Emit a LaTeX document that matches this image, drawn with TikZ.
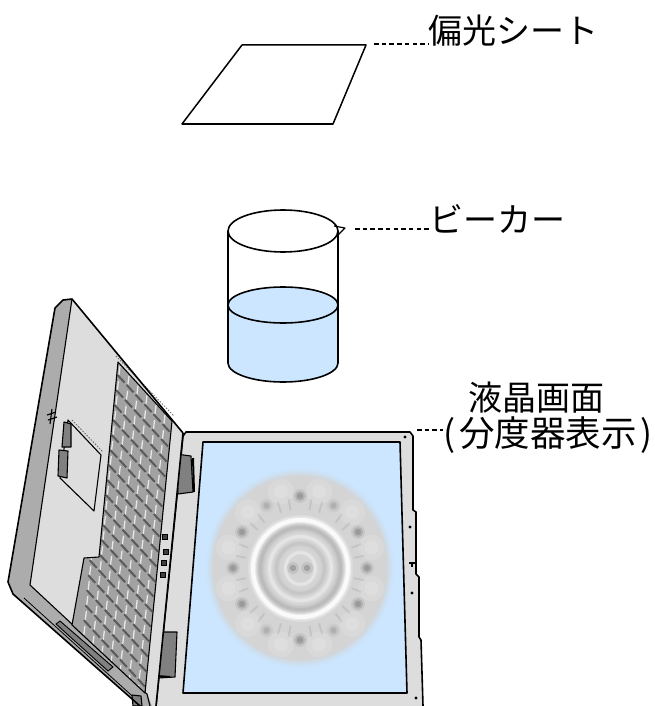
\documentclass[tikz,border=0pt]{standalone}
\usepackage{fontspec}
\newfontfamily\jpfont{Noto Sans CJK JP}
\definecolor{water}{RGB}{204,230,255}
\definecolor{lcd}{RGB}{204,230,255}
\definecolor{shell}{RGB}{221,221,221}
\definecolor{rim}{RGB}{172,172,172}
\definecolor{keys}{RGB}{162,162,162}
\definecolor{keyshade}{RGB}{90,90,90}
\definecolor{keylight}{RGB}{232,232,232}
\definecolor{hingegray}{RGB}{128,128,128}
\definecolor{dial}{RGB}{212,212,212}
\definecolor{dialdark}{RGB}{180,180,180}
\tikzset{
  outline/.style={draw=black, line width=1.6pt, line join=round},
  thin outline/.style={draw=black, line width=1.1pt, line join=round},
  leader/.style={draw=black, line width=1.3pt, dash pattern=on 4.5pt off 3.2pt},
  jlabel/.style={font=\jpfont\fontsize{34}{36}\selectfont, inner sep=0pt, anchor=base west},
}
\begin{document}
\begin{tikzpicture}[x=1pt,y=-1pt]
\useasboundingbox (0,0) rectangle (655,706);

% ---------------- polarizing sheet ----------------
\draw[outline, line width=1.5pt] (242,45) -- (366,45) -- (333,124) -- (182,124) -- cycle;
\coordinate (sheetTip) at (374,44);
\node[jlabel] (lblSheet) at (428,43.6) {偏光シート};
\draw[leader] (sheetTip) -- (lblSheet.west |- sheetTip);

% ---------------- beaker ----------------
\fill[water] (228,305) -- (228,363)
  arc[start angle=180, end angle=360, x radius=55pt, y radius=19pt]
  -- (338,305)
  arc[start angle=0, end angle=180, x radius=55pt, y radius=18pt] -- cycle;
\draw[outline] (228,231) -- (228,363)
  arc[start angle=180, end angle=360, x radius=55pt, y radius=19pt]
  -- (338,231);
\draw[outline, fill=water] (283,305) ellipse[x radius=55pt, y radius=18pt];
\draw[outline] (283,231) ellipse[x radius=55pt, y radius=21pt];
\draw[outline, line width=1.2pt] (334,226) -- (345,228) -- (338,235);
\coordinate (beakerTip) at (355,229);
\node[jlabel] (lblBeaker) at (429,232.5) {ビーカー};
\draw[leader] (beakerTip) -- (lblBeaker.west |- beakerTip);

% ---------------- laptop: display half ----------------
\fill[shell] (186,432) -- (410,432) -- (413,436) -- (413,510) -- (416,512)
  -- (416,574) -- (419,577) -- (419,637) -- (421,640) -- (423,706)
  -- (156,706) -- (183,436) -- cycle;
\draw[outline] (156,706) -- (183,436) -- (186,432) -- (410,432) -- (413,436)
  -- (413,510) -- (416,512) -- (416,574) -- (419,577) -- (419,637)
  -- (421,640) -- (423,706);
\draw[outline, fill=lcd] (203,442) -- (400,442) -- (407,693) -- (183,693) -- cycle;
% small marks on the bezel
\foreach \p in {(405,437),(410,527),(412,593),(416,698)}
  \fill[black] \p circle[radius=1.7pt];
\draw[line width=1.2pt] (409,563) -- (415,563) (412,563) -- (412,567);

% protractor shown on the LCD (soft, out of focus)
\begin{scope}
  \foreach \r/\o in {94/0.1,92/0.2,90/0.4,88/0.7,86/1}
    \fill[dial, opacity=\o] (300,568) ellipse[x radius={\r*1pt}, y radius={\r*1.06pt}];
  % outer band texture
  \foreach \a in {15,45,75,105,135,165,195,225,255,285,315,345}{
    \fill[white, opacity=0.12] ({300+74*cos(\a)},{568-79*sin(\a)}) circle[radius=13pt];
    \fill[white, opacity=0.15] ({300+74*cos(\a)},{568-79*sin(\a)}) circle[radius=7pt];
  }
  % graduation marks
  \foreach \a/\o in {0/1,30/1,90/1,150/1,180/1,210/1,270/1,330/1,60/0.5,120/0.5,240/0.5,300/0.5}{
    \fill[gray, opacity=0.15*\o] ({300+67*cos(\a)},{568-72*sin(\a)}) circle[radius=7pt];
    \fill[gray, opacity=0.3*\o] ({300+67*cos(\a)},{568-72*sin(\a)}) circle[radius=5pt];
    \fill[gray!90, opacity=0.6*\o] ({300+67*cos(\a)},{568-72*sin(\a)}) circle[radius=3pt];
  }
  % radial ticks
  \foreach \a in {10,20,40,50,70,80,100,110,130,140,160,170,190,200,220,230,250,260,280,290,310,320,340,350}
    \draw[gray, opacity=0.18, line width=2pt]
      ({300+55*cos(\a)},{568-59*sin(\a)}) -- ({300+65*cos(\a)},{568-70*sin(\a)});
  % rings
  \foreach \w/\o in {10/0.2,7/0.35,4/0.8}
    \draw[white, opacity=\o, line width=\w pt] (300.5,568.5) ellipse[x radius=47.5pt, y radius=48.5pt];
  \foreach \w/\o in {9/0.18,6/0.3,3/0.6}
    \draw[dialdark, opacity=\o, line width=\w pt] (300.5,568.5) ellipse[x radius=40pt, y radius=41pt];
  \foreach \w/\o in {6/0.15,3/0.3}
    \draw[white, opacity=\o, line width=\w pt] (300.5,568.5) ellipse[x radius=31pt, y radius=32pt];
  \foreach \w/\o in {6/0.15,3/0.3}
    \draw[dialdark, opacity=\o, line width=\w pt] (300.5,568.5) ellipse[x radius=24pt, y radius=25pt];
  \foreach \w/\o in {5/0.15,2.5/0.3}
    \draw[white, opacity=\o, line width=\w pt] (300.5,568.5) ellipse[x radius=15pt, y radius=16pt];
  % centre marks
  \foreach \x in {293,307}{
    \fill[gray, opacity=0.2] (\x,568) circle[radius=6pt];
    \fill[gray, opacity=0.5] (\x,568) circle[radius=3.2pt];
  }
\end{scope}

% hinges
\draw[thin outline, fill=hingegray] (176,454) -- (191,456) -- (193,492) -- (178,494) -- cycle;
\draw[line width=2pt] (193,458) -- (194,492);
\draw[thin outline, fill=hingegray] (171,446) -- (176,446) -- (177,453) -- (172,453) -- cycle;
\draw[thin outline, fill=hingegray] (162,632) -- (177,632) -- (175,677) -- (158,678) -- cycle;
\draw[line width=2pt] (157,676) -- (170,677);

% ---------------- laptop: keyboard half ----------------
\fill[shell] (72,299) -- (183,433) -- (156,706) -- (140,706) -- (13,594)
  -- (8,582) -- (55,308) -- (63,300) -- cycle;
% front and side thickness
\fill[rim] (63,300) -- (72,299) -- (30,585) -- (147,694) -- (152,706)
  -- (140,706) -- (13,594) -- (8,582) -- (55,308) -- cycle;
\draw[thin outline] (72,299) -- (30,585) -- (147,694) -- (150,706);
\draw[line width=0.8pt] (24,598) -- (140,703);
\fill[hingegray] (56,624) -- (60,621) -- (113,667) -- (108,671) -- cycle;
\draw[line width=0.9pt] (56,624) -- (60,621) -- (113,667) -- (108,671) -- cycle;
\draw[thin outline, fill=hingegray] (132,695) -- (141,696) -- (142,706) -- (133,706) -- cycle;
% key field
\begin{scope}
  \clip (118,362) -- (172,421) -- (145,693) -- (72,625) -- (84,558) -- (99,557) -- cycle;
  \fill[keys] (60,340) rectangle (190,706);
  \foreach \i in {-1,...,6}
    \foreach \j in {-1,...,23}{
      \draw[keylight, line width=1.3pt]
        ({118+9*\i-1.45*\j+2},{362+9.8*\i+15*\j+4}) -- ++(-1.1,9);
      \draw[keyshade, line width=2pt]
        ({118+9*\i-1.45*(\j+1)+1},{362+9.8*\i+15*(\j+1)-2}) -- ++(7,7.6);
    }
\end{scope}
\draw[thin outline] (118,362) -- (172,421) -- (145,693) -- (72,625) -- (84,558) -- (99,557) -- cycle;
\draw[black!60, line width=0.8pt, dash pattern=on 1.5pt off 1.5pt] (116,356) -- (174,416);
% touch pad with its buttons
\draw[thin outline, fill=shell] (68,420) -- (101,455) -- (94,511) -- (60,478) -- cycle;
\draw[black!60, line width=0.8pt, dash pattern=on 1.5pt off 1.5pt] (72,420) -- (103,452);
\draw[thin outline, fill=hingegray] (64,422) -- (71,424) -- (71,447) -- (62,447) -- cycle;
\draw[thin outline, fill=hingegray] (59,450) -- (68,451) -- (67,478) -- (58,476) -- cycle;
% status lamps
\foreach \p in {(165,537),(166,552),(164,563),(163,575)}
  \draw[line width=0.8pt, fill=black!75] \p ++(-2.2,-2.2) rectangle ++(4.4,4.4);
% small symbol on the side edge
\draw[line width=1.1pt] (47,415) -- (56,412) (48,420) -- (57,417) (52,409) -- (50,424);
% base outline
\draw[outline] (55,308) -- (63,300) -- (72,299) -- (183,433);
\draw[outline] (55,308) -- (8,582) -- (13,594) -- (140,706);
\draw[outline] (183,433) -- (156,706);

% label of the LCD
\node[jlabel] (lblLcdA) at (468,410) {液晶画面};
\node[jlabel, font=\jpfont\fontsize{35.5}{37}\selectfont] (lblLcdB) at (443,446.5) {(\kern4pt 分度器表示\kern4pt)};
\coordinate (lcdTip) at (417,430);
\draw[leader] (lcdTip) -- (lblLcdB.west |- lcdTip);
\end{tikzpicture}
\end{document}
